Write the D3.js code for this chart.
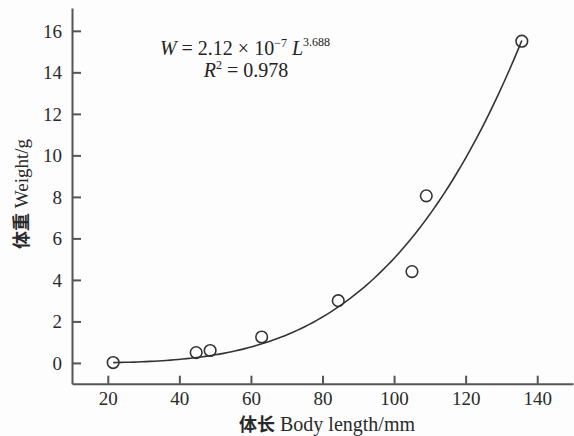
<!DOCTYPE html>
<html>
<head>
<meta charset="utf-8">
<script src="https://cdn.jsdelivr.net/npm/d3@7"></script>
<style>
  body { margin: 0; background: #fdfdfd; }
  svg { display: block; }
  .tick text { font-family: "Liberation Serif", "DejaVu Serif", serif; font-size: 19px; fill: #2a2a2a; }
  .axis path, .axis line { stroke: #555; }
</style>
</head>
<body>
<div id="chart"></div>
<script>
// observed points: body length (mm) and weight (g)
var lengths = [21.5, 44.7, 48.6, 63.0, 84.4, 105.0, 109.0, 135.7];
var weights = [0.02, 0.5, 0.6, 1.25, 3.0, 4.4, 8.05, 15.5];
var xTicks = [20, 40, 60, 80, 100, 120, 140];
var yTicks = [0, 2, 4, 6, 8, 10, 12, 14, 16];
// fitted power curve W = a * L^b (from the printed equation)
var fitA = 2.12e-7, fitB = 3.688;
var fitFrom = 21.5, fitTo = 135.7;

var width = 574, height = 436;

var svg = d3.select("#chart").append("svg")
	.attr("width", width)
	.attr("height", height);

var x = d3.scaleLinear().domain([10, 150]).range([72, 573]);
var y = d3.scaleLinear().domain([-1, 17.1]).range([383.7, 8]);

// axes, ticks pointing inward
var xAxis = d3.axisBottom(x).tickValues(xTicks).tickSizeInner(-8).tickSizeOuter(0).tickPadding(8);
var yAxis = d3.axisLeft(y).tickValues(yTicks).tickSizeInner(-9).tickSizeOuter(0).tickPadding(10);

svg.append("g")
	.attr("class", "axis")
	.attr("transform", "translate(0," + y(-1) + ")")
	.call(xAxis)
	.call(function(g) { g.selectAll("path, line").attr("stroke-width", 2); });

svg.append("g")
	.attr("class", "axis")
	.attr("transform", "translate(" + x(10) + ",0)")
	.call(yAxis)
	.call(function(g) {
		g.selectAll("path, line").attr("stroke-width", 2);
		g.selectAll("text").attr("dy", ".34em");
	});

// fitted curve
var curvePts = d3.range(0, 101).map(function(i) {
	var L = fitFrom + (fitTo - fitFrom) * i / 100;
	return [L, fitA * Math.pow(L, fitB)];
});
svg.append("path")
	.datum(curvePts)
	.attr("fill", "none")
	.attr("stroke", "#333")
	.attr("stroke-width", 1.6)
	.attr("d", d3.line()
		.x(function(d) { return x(d[0]); })
		.y(function(d) { return y(d[1]); }));

// points
svg.selectAll("circle.pt")
	.data(lengths)
	.enter()
	.append("circle")
	.attr("class", "pt")
	.attr("cx", function(d) { return x(d); })
	.attr("cy", function(d, i) { return y(weights[i]); })
	.attr("r", 5.8)
	.attr("fill", "none")
	.attr("stroke", "#333")
	.attr("stroke-width", 1.6);

var serif = "Liberation Serif, DejaVu Serif, serif";
var cjk = "Noto Sans CJK SC, sans-serif";

// equation
var eq = svg.append("text")
	.attr("x", 245)
	.attr("y", 55)
	.attr("text-anchor", "middle")
	.style("font-family", serif)
	.attr("font-size", 20)
	.attr("fill", "#222");
eq.append("tspan").attr("font-style", "italic").text("W");
eq.append("tspan").text(" = 2.12 × 10");
eq.append("tspan").attr("font-size", 12).attr("dy", -8).text("−7");
eq.append("tspan").attr("font-style", "italic").attr("dy", 8).text(" L");
eq.append("tspan").attr("font-size", 12).attr("dy", -9).text("3.688");

var r2 = svg.append("text")
	.attr("x", 246)
	.attr("y", 77)
	.attr("text-anchor", "middle")
	.style("font-family", serif)
	.attr("font-size", 20)
	.attr("fill", "#222");
r2.append("tspan").attr("font-style", "italic").text("R");
r2.append("tspan").attr("font-size", 12).attr("dy", -8).text("2");
r2.append("tspan").attr("dy", 8).text(" = 0.978");

// axis titles
var xt = svg.append("text")
	.attr("x", 327)
	.attr("y", 431)
	.attr("text-anchor", "middle")
	.attr("font-size", 20)
	.attr("fill", "#2a2a2a");
xt.append("tspan").style("font-family", cjk).attr("font-weight", "bold").attr("font-size", 18).text("体长");
xt.append("tspan").style("font-family", serif).text("  Body length/mm");

var yt = svg.append("text")
	.attr("transform", "translate(28,194) rotate(-90)")
	.attr("text-anchor", "middle")
	.attr("font-size", 19)
	.attr("fill", "#2a2a2a");
yt.append("tspan").style("font-family", cjk).attr("font-weight", "bold").attr("font-size", 18).text("体重");
yt.append("tspan").style("font-family", serif).text("   Weight/g");
</script>
</body>
</html>
